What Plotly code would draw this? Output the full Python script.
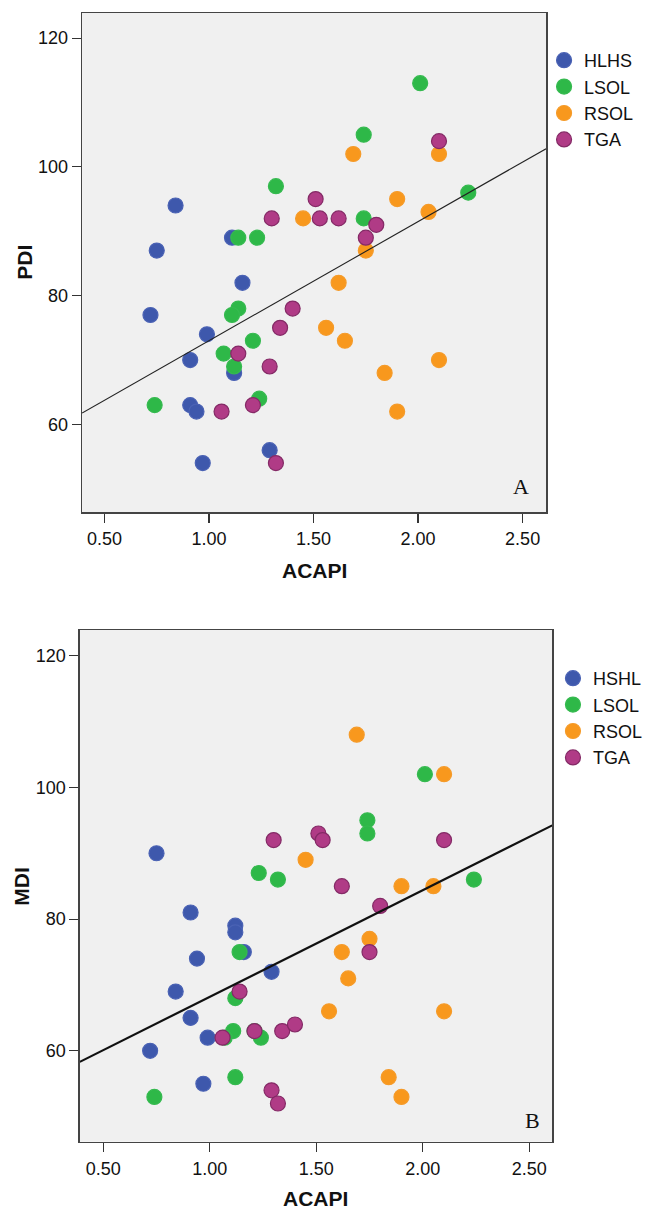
import numpy as np
import plotly.graph_objects as go

W, H = 648, 1211

# ---------------- Panel A : PDI vs ACAPI ----------------
A_groups = ["HLHS", "LSOL", "RSOL", "TGA"]
A_HLHS_x = [0.84, 0.75, 1.11, 1.16, 0.72, 0.99, 0.91, 1.12, 0.91, 0.94, 1.29, 0.97]
A_HLHS_y = [94, 87, 89, 82, 77, 74, 70, 68, 63, 62, 56, 54]
A_LSOL_x = [1.32, 1.14, 1.23, 2.01, 1.74, 2.24, 1.74, 1.14, 1.11, 1.21, 1.07, 1.12, 0.74, 1.24]
A_LSOL_y = [97, 89, 89, 113, 105, 96, 92, 78, 77, 73, 71, 69, 63, 64]
A_RSOL_x = [1.45, 1.69, 2.10, 1.90, 2.05, 1.75, 1.62, 1.56, 1.65, 2.10, 1.84, 1.90]
A_RSOL_y = [92, 102, 102, 95, 93, 87, 82, 75, 73, 70, 68, 62]
A_TGA_x = [1.51, 1.30, 1.53, 1.62, 2.10, 1.80, 1.75, 1.40, 1.34, 1.14, 1.29, 1.06, 1.21, 1.32]
A_TGA_y = [95, 92, 92, 92, 104, 91, 89, 78, 75, 71, 69, 62, 63, 54]

# ---------------- Panel B : MDI vs ACAPI ----------------
B_groups = ["HSHL", "LSOL", "RSOL", "TGA"]
B_HSHL_x = [0.75, 0.91, 1.12, 1.12, 1.16, 0.94, 1.29, 0.84, 0.91, 0.99, 0.72, 0.97]
B_HSHL_y = [90, 81, 79, 78, 75, 74, 72, 69, 65, 62, 60, 55]
B_LSOL_x = [1.23, 1.32, 2.01, 1.74, 1.74, 2.24, 1.14, 1.12, 1.11, 1.24, 1.07, 1.21, 1.12, 0.74]
B_LSOL_y = [87, 86, 102, 95, 93, 86, 75, 68, 63, 62, 62, 63, 56, 53]
B_RSOL_x = [1.69, 2.10, 1.45, 1.90, 2.05, 1.75, 1.62, 1.65, 1.56, 2.10, 1.84, 1.90]
B_RSOL_y = [108, 102, 89, 85, 85, 77, 75, 71, 66, 66, 56, 53]
B_TGA_x = [1.30, 1.51, 1.53, 2.10, 1.62, 1.80, 1.75, 1.14, 1.21, 1.34, 1.40, 1.06, 1.29, 1.32]
B_TGA_y = [92, 93, 92, 92, 85, 82, 75, 69, 63, 63, 64, 62, 54, 52]

x_ticks = [0.5, 1.0, 1.5, 2.0, 2.5]
x_ticklabels = ["0.50", "1.00", "1.50", "2.00", "2.50"]
y_ticks = [60, 80, 100, 120]

colors = ["#3E58AC", "#2EB848", "#F8981D", "#B03B86"]
outline = ["#4A62B4", "#36BA50", "#F59B2A", "#842A66"]

FONT = "Liberation Sans, Arial, sans-serif"

fig = go.Figure()

A_data = [(A_HLHS_x, A_HLHS_y), (A_LSOL_x, A_LSOL_y), (A_RSOL_x, A_RSOL_y), (A_TGA_x, A_TGA_y)]
B_data = [(B_HSHL_x, B_HSHL_y), (B_LSOL_x, B_LSOL_y), (B_RSOL_x, B_RSOL_y), (B_TGA_x, B_TGA_y)]

for i, (name, (xs, ys)) in enumerate(zip(A_groups, A_data)):
    fig.add_trace(go.Scatter(x=xs, y=ys, mode="markers", name=name,
                             marker=dict(size=15, color=colors[i], line=dict(width=1.2, color=outline[i]), opacity=1),
                             xaxis="x", yaxis="y", legend="legend"))
for i, (name, (xs, ys)) in enumerate(zip(B_groups, B_data)):
    fig.add_trace(go.Scatter(x=xs, y=ys, mode="markers", name=name,
                             marker=dict(size=15, color=colors[i], line=dict(width=1.2, color=outline[i]), opacity=1),
                             xaxis="x2", yaxis="y2", legend="legend2"))

xrA = [0.393, 2.612]
xrB = [0.39, 2.608]

# total-sample linear fits
ax_all = np.concatenate([np.array(d[0], float) for d in A_data])
ay_all = np.concatenate([np.array(d[1], float) for d in A_data])
kA, bA = np.polyfit(ax_all, ay_all, 1)
bx_all = np.concatenate([np.array(d[0], float) for d in B_data])
by_all = np.concatenate([np.array(d[1], float) for d in B_data])
kB, bB = np.polyfit(bx_all, by_all, 1)

fig.add_trace(go.Scatter(x=xrA, y=[kA * xrA[0] + bA, kA * xrA[1] + bA], mode="lines",
                         line=dict(color="#222222", width=1.1), showlegend=False, hoverinfo="skip",
                         xaxis="x", yaxis="y"))
fig.add_trace(go.Scatter(x=xrB, y=[kB * xrB[0] + bB, kB * xrB[1] + bB], mode="lines",
                         line=dict(color="#111111", width=2.2), showlegend=False, hoverinfo="skip",
                         xaxis="x2", yaxis="y2"))

def px(x):
    return x / W

def py(y):
    return 1 - y / H

axis_common = dict(showgrid=False, zeroline=False, showline=True, linecolor="#444444", linewidth=1.5,
                   mirror=True, ticks="outside", ticklen=9, tickwidth=1.2, tickcolor="#333333",
                   tickfont=dict(family=FONT, size=18, color="#111111"))

fig.update_layout(
    width=W, height=H,
    margin=dict(l=0, r=0, t=0, b=0),
    paper_bgcolor="white",
    plot_bgcolor="#F0F0F0",
    xaxis=dict(domain=[px(83), px(552)], range=xrA, tickvals=x_ticks, ticktext=x_ticklabels,
               anchor="y", ticklabelstandoff=1, **axis_common),
    yaxis=dict(domain=[py(512), py(13)], range=[46.4, 123.9], tickvals=y_ticks,
               anchor="x", **axis_common),
    xaxis2=dict(domain=[px(80.7), px(558.3)], range=xrB, tickvals=x_ticks, ticktext=x_ticklabels,
                anchor="y2", ticklabelstandoff=1, **axis_common),
    yaxis2=dict(domain=[py(1141.7), py(630)], range=[46.2, 123.9], tickvals=y_ticks,
                anchor="x2", **axis_common),
    legend=dict(x=px(550), y=py(42), xanchor="left", yanchor="top", bgcolor="rgba(0,0,0,0)",
                font=dict(family=FONT, size=18, color="#111111"), itemsizing="trace"),
    legend2=dict(x=px(559), y=py(660), xanchor="left", yanchor="top", bgcolor="rgba(0,0,0,0)",
                 font=dict(family=FONT, size=18, color="#111111"), itemsizing="trace"),
    showlegend=True,
)

ann = []
def add_text(text, x, y, size, bold=True, angle=0, family=FONT):
    t = f"<b>{text}</b>" if bold else text
    ann.append(dict(text=t, x=px(x), y=py(y), xref="paper", yref="paper", showarrow=False,
                    xanchor="center", yanchor="middle", textangle=angle,
                    font=dict(family=family, size=size, color="#111111")))

add_text("PDI", 24, 262, 21, angle=-90)
add_text("ACAPI", 318, 570, 21)
add_text("MDI", 22, 886, 21, angle=-90)
add_text("ACAPI", 319, 1198, 21)
add_text("A", 527, 487, 22, bold=False, family="Liberation Serif, Times New Roman, serif")
add_text("B", 538, 1120, 22, bold=False, family="Liberation Serif, Times New Roman, serif")
fig.update_layout(annotations=ann)

fig.write_html("out.html", config={"displayModeBar": False, "staticPlot": True},
               post_script="document.body.style.margin='0';document.body.style.overflow='hidden';")
